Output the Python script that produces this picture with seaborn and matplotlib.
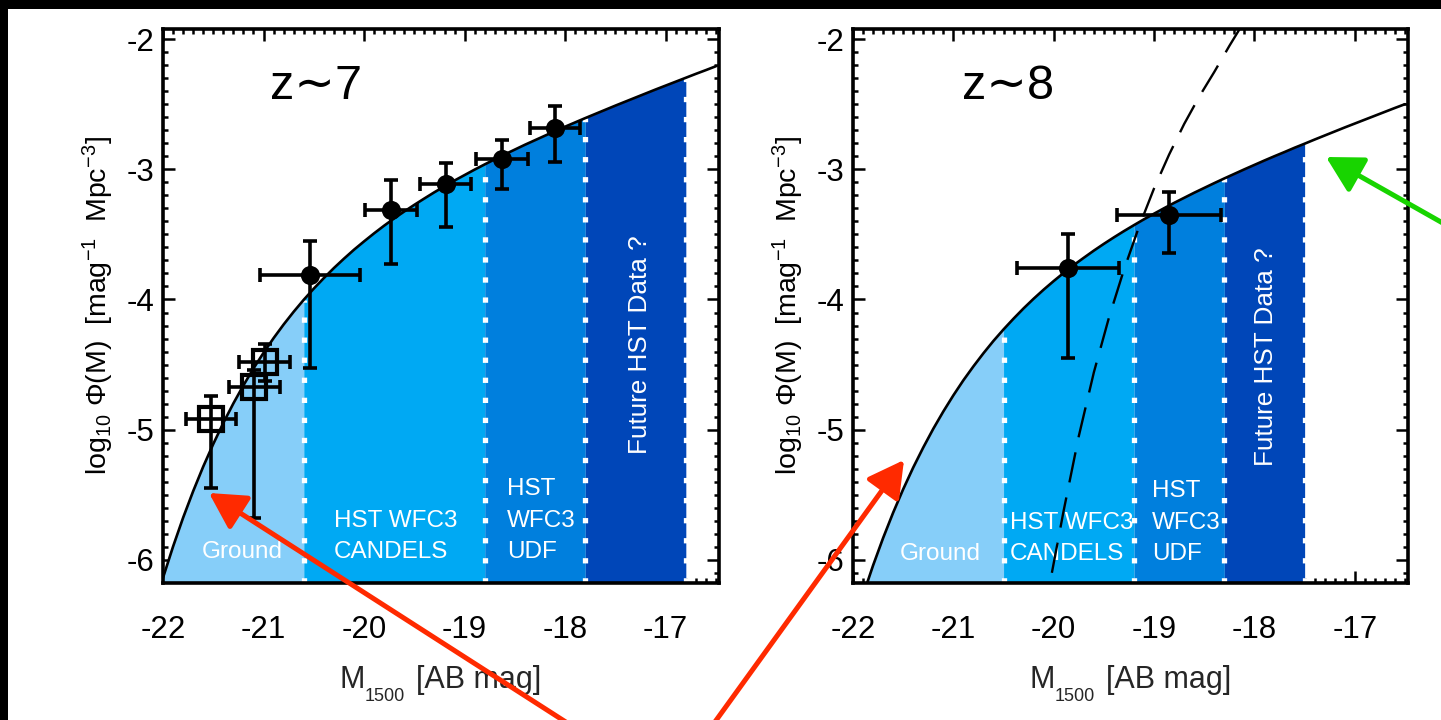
import numpy as np
import pandas as pd
import matplotlib
matplotlib.use("Agg")
import matplotlib.pyplot as plt
import seaborn as sns
from matplotlib.patches import FancyArrowPatch, Rectangle
from matplotlib.ticker import MultipleLocator, FormatStrFormatter

# ------------------------------------------------------------------ data
# absolute magnitude grid of the luminosity-function curves
mag_grid = [-22.1, -22.0, -21.9, -21.8, -21.7, -21.6, -21.5, -21.4, -21.3, -21.2,
            -21.1, -21.0, -20.9, -20.8, -20.7, -20.6, -20.5, -20.4, -20.3, -20.2,
            -20.1, -20.0, -19.9, -19.8, -19.7, -19.6, -19.5, -19.4, -19.3, -19.2,
            -19.1, -19.0, -18.9, -18.8, -18.7, -18.6, -18.5, -18.4, -18.3, -18.2,
            -18.1, -18.0, -17.9, -17.8, -17.7, -17.6, -17.5, -17.4, -17.3, -17.2,
            -17.1, -17.0, -16.9, -16.8, -16.7, -16.6, -16.5]

# log10 Phi of the z~7 curve
lf_z7 = [-6.400, -6.140, -5.900, -5.678, -5.474, -5.285, -5.111, -4.949, -4.799, -4.660,
         -4.530, -4.410, -4.297, -4.192, -4.094, -4.002, -3.916, -3.835, -3.758, -3.686,
         -3.617, -3.553, -3.491, -3.432, -3.376, -3.323, -3.272, -3.223, -3.175, -3.130,
         -3.085, -3.043, -3.001, -2.961, -2.922, -2.884, -2.847, -2.810, -2.775, -2.740,
         -2.705, -2.671, -2.638, -2.605, -2.573, -2.541, -2.509, -2.478, -2.447, -2.416,
         -2.385, -2.355, -2.325, -2.295, -2.265, -2.236, -2.206]

# log10 Phi of the z~8 curve
lf_z8 = [-7.083, -6.521, -6.273, -6.045, -5.834, -5.639, -5.459, -5.292, -5.138, -4.994,
         -4.861, -4.737, -4.621, -4.514, -4.413, -4.318, -4.230, -4.147, -4.068, -3.994,
         -3.924, -3.858, -3.795, -3.735, -3.679, -3.624, -3.572, -3.522, -3.474, -3.428,
         -3.383, -3.340, -3.298, -3.257, -3.218, -3.179, -3.142, -3.105, -3.069, -3.034,
         -2.999, -2.965, -2.931, -2.898, -2.866, -2.833, -2.802, -2.770, -2.739, -2.708,
         -2.677, -2.647, -2.617, -2.587, -2.557, -2.527, -2.498]

# dashed curve in the z~8 panel
dash_mag = [-20.1, -20.05, -19.9, -19.75, -19.6, -19.45, -19.3, -19.15, -19.0,
            -18.85, -18.7, -18.55, -18.4, -18.25, -18.1, -18.0]
dash_lf = [-6.45, -6.23, -5.62, -5.05, -4.56, -4.14, -3.77, -3.44, -3.145,
           -2.885, -2.65, -2.44, -2.25, -2.05, -1.86, -1.74]

# survey depth limits (faint edge of each shaded region)
limits_z7 = [-20.6, -18.8, -17.8, -16.8]
limits_z8 = [-20.5, -19.2, -18.3, -17.5]
region_names = ["Ground", "HST WFC3\nCANDELS", "HST\nWFC3\nUDF", "Future HST Data ?"]

# z~7 HST points (filled circles)
z7_mag = [-20.54, -19.73, -19.19, -18.63, -18.10]
z7_phi = [-3.815, -3.31, -3.115, -2.92, -2.68]
z7_xerr = [0.50, 0.26, 0.25, 0.26, 0.25]
z7_err_lo = [0.715, 0.42, 0.325, 0.23, 0.26]
z7_err_hi = [0.265, 0.23, 0.165, 0.15, 0.165]

# z~7 ground-based points (open squares)
gr_mag = [-21.52, -21.09, -20.99]
gr_phi = [-4.92, -4.67, -4.48]
gr_xerr = [0.25, 0.25, 0.25]
gr_err_lo = [0.53, 1.01, 0.15]
gr_err_hi = [0.18, 0.13, 0.14]

# z~8 HST points
z8_mag = [-19.855, -18.85]
z8_phi = [-3.76, -3.35]
z8_xerr = [0.51, 0.52]
z8_err_lo = [0.69, 0.29]
z8_err_hi = [0.26, 0.18]

x_ticks = [-22, -21, -20, -19, -18, -17]
y_ticks = [-6, -5, -4, -3, -2]

# ------------------------------------------------------------------ style
sns.set_theme(style="ticks")
plt.rcParams["font.family"] = ["Liberation Sans", "DejaVu Sans"]
plt.rcParams["axes.unicode_minus"] = False
plt.rcParams["mathtext.fontset"] = "custom"
plt.rcParams["mathtext.rm"] = "Liberation Sans"
plt.rcParams["mathtext.it"] = "Liberation Sans:italic"
plt.rcParams["mathtext.bf"] = "Liberation Sans:bold"
plt.rcParams["mathtext.default"] = "regular"

REGION_COLORS = ["#86CEF9", "#00A9F3", "#007FDD", "#0046B8"]
RED = "#FF2A00"
GREEN = "#18D400"
XLIM = (-22.0, -16.47)
YLIM = (-6.18, -1.92)

W, H = 1441, 720
fig = plt.figure(figsize=(W / 100, H / 100), dpi=100, facecolor="white")

AX_L = [163, 853]
AX_W = [556, 555]
AX_TOP, AX_BOT = 29, 583
axes = [fig.add_axes([AX_L[i] / W, (H - AX_BOT) / H, AX_W[i] / W, (AX_BOT - AX_TOP) / H])
        for i in range(2)]


def style_axes(ax):
    ax.set_facecolor("white")
    ax.set_xlim(*XLIM)
    ax.set_ylim(*YLIM)
    ax.set_xticks(x_ticks)
    ax.set_yticks(y_ticks)
    ax.xaxis.set_minor_locator(MultipleLocator(0.1))
    ax.yaxis.set_minor_locator(MultipleLocator(0.1))
    ax.xaxis.set_major_formatter(FormatStrFormatter("%d"))
    ax.yaxis.set_major_formatter(FormatStrFormatter("%d"))
    ax.tick_params(which="both", direction="in", top=True, right=True,
                   width=1.8, color="black", labelcolor="black")
    ax.tick_params(which="major", length=8.5)
    ax.tick_params(which="minor", length=3.8)
    ax.tick_params(axis="x", which="major", pad=23, labelsize=22.5)
    ax.tick_params(axis="y", which="major", pad=6, labelsize=22.5)
    for s in ax.spines.values():
        s.set_linewidth(2.6)
        s.set_color("black")
        s.set_zorder(10)
    ax.grid(False)
    ax.set_xlabel("")
    ax.set_ylabel(r"log$_{10}$ Φ(M)  [mag$^{-1}$  Mpc$^{-3}$]", fontsize=20.5, color="black")
    ax.yaxis.set_label_coords(-0.084, 0.5)


def draw_lf(ax, curve, limits):
    M = np.array(mag_grid)
    C = np.array(curve)
    edges = [M.min()] + list(limits)
    for i, col in enumerate(REGION_COLORS):
        lo, hi = edges[i], edges[i + 1]
        mask = (M >= lo - 1e-6) & (M <= hi + 1e-6)
        ax.fill_between(M, C, -7.5, where=mask, color=col, lw=0, zorder=1)
    for b in limits:
        top = C[np.isclose(M, b)][0]
        ax.vlines(b, YLIM[0], top, colors="white", lw=3.8,
                  linestyles=[(0, (1, 2.8))], zorder=2)
    df = pd.DataFrame({"M": M, "phi": C})
    sns.lineplot(data=df, x="M", y="phi", ax=ax, color="black", lw=1.9,
                 zorder=3, sort=False)


def draw_points(ax, x, y, xerr, lo, hi, marker):
    ax.errorbar(x, y, xerr=xerr, yerr=[lo, hi], fmt="none", ecolor="black",
                elinewidth=2.6, capsize=5, capthick=2.6, zorder=4)
    if marker == "o":
        sns.scatterplot(x=x, y=y, ax=ax, color="black", s=190, linewidth=0,
                        marker="o", zorder=5)
    else:
        ax.plot(x, y, "s", ms=17, mfc="none", mec="black", mew=3.0, zorder=5)


TXT = dict(color="white", fontsize=17.5, zorder=2.5)


def region_text(ax, x_left, baselines, lines):
    for yb, line in zip(baselines, lines):
        ax.text(x_left, yb, line, ha="left", va="baseline", **TXT)


# ---------------- z~7 panel
ax = axes[0]
draw_lf(ax, lf_z7, limits_z7)
draw_points(ax, z7_mag, z7_phi, z7_xerr, z7_err_lo, z7_err_hi, "o")
draw_points(ax, gr_mag, gr_phi, gr_xerr, gr_err_lo, gr_err_hi, "s")
ax.text(-20.94, -2.46, "z∼7", fontsize=35, ha="left", va="baseline",
        color="black", zorder=6)
ax.text(-21.21, -5.985, region_names[0], ha="center", va="baseline", **TXT)
region_text(ax, -20.30, [-5.746, -5.985], region_names[1].split("\n"))
region_text(ax, -18.58, [-5.50, -5.746, -5.985], region_names[2].split("\n"))
ax.text(-17.26, -4.35, region_names[3], ha="center", va="center",
        rotation=90, color="white", fontsize=18.8, zorder=2.5)
style_axes(ax)

# ---------------- z~8 panel
ax = axes[1]
draw_lf(ax, lf_z8, limits_z8)
sns.lineplot(x=dash_mag, y=dash_lf, ax=ax, color="black", lw=1.7,
             dashes=False, zorder=3.5, sort=False).lines[-1].set_dashes([13, 6.5])
draw_points(ax, z8_mag, z8_phi, z8_xerr, z8_err_lo, z8_err_hi, "o")
ax.text(-20.91, -2.46, "z∼8", fontsize=35, ha="left", va="baseline",
        color="black", zorder=6)
ax.text(-21.13, -6.005, region_names[0], ha="center", va="baseline", **TXT)
region_text(ax, -20.44, [-5.765, -6.005], region_names[1].split("\n"))
region_text(ax, -19.02, [-5.52, -5.765, -6.005], region_names[2].split("\n"))
ax.text(-17.88, -4.44, region_names[3], ha="center", va="center",
        rotation=90, color="white", fontsize=18.8, zorder=2.5)
style_axes(ax)

# x-axis titles (IDL-style low subscript)
for L in AX_L:
    fig.text((L + 176) / W, 1 - 688 / H, "M", fontsize=22, ha="left", va="baseline")
    fig.text((L + 202) / W, 1 - 701 / H, "1500", fontsize=13, ha="left", va="baseline")
    fig.text((L + 253) / W, 1 - 688 / H, "[AB mag]", fontsize=22, ha="left", va="baseline")


# ---------------- annotation arrows (figure pixel positions)
def fpx(x, y):
    return (x / W, 1 - y / H)


for tail, tip, col in [((572, 726), (209, 493), RED),
                       ((712, 726), (904, 460), RED),
                       ((1448, 226), (1326, 157), GREEN)]:
    arr = FancyArrowPatch(fpx(*tail), fpx(*tip), transform=fig.transFigure,
                          arrowstyle="-|>,head_length=1.0,head_width=0.55",
                          mutation_scale=22, lw=3.6, color=col,
                          shrinkA=0, shrinkB=0, zorder=20)
    fig.add_artist(arr)

# black frame strips of the original screenshot
fig.add_artist(Rectangle((0, 1 - 9 / H), 1, 9 / H, transform=fig.transFigure,
                         color="black", lw=0, zorder=30))
fig.add_artist(Rectangle((0, 0), 8 / W, 1, transform=fig.transFigure,
                         color="black", lw=0, zorder=30))

fig.savefig("out.png", dpi=100, facecolor="white")
